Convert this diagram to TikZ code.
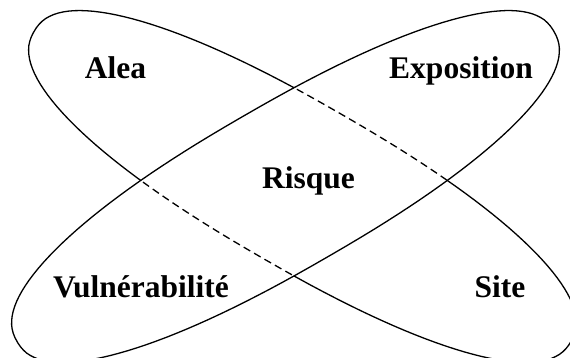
\documentclass[tikz,border=0pt]{standalone}
\usepackage{fontspec}
\setmainfont{Liberation Serif}
\begin{document}
\begin{tikzpicture}[
        x=1pt, y=1pt,
        oval/.style={line width=1.3pt},
        hidden/.style={
            line width=1.3pt,
            dash pattern=on 7.5pt off 4.5pt
        },
        word/.style={
            anchor=base,
            inner sep=0pt,
            font=\fontsize{31.5}{36}\selectfont\bfseries
        },
        lobe/.style={insert path={
            plot[domain=0.5:360.5, samples=145, variable=\t]
            ({310*sign(cos(\t))*pow(abs(cos(\t)),0.87)}, {82*sign(sin(\t))*pow(abs(sin(\t)),0.87)}) -- cycle}},
        frameB/.style={shift={(285.5,171.5)}, rotate=30},
        frameA/.style={shift={(302.5,171.5)}, rotate=-30}
    ]
    \useasboundingbox (0,0) rectangle (570,358);
    \clip (0,0) rectangle (570,358);

    % Vulnerabilite -- Exposition
    \draw[oval, frameB] (0,0) [lobe];

    % Alea -- Site, dashed where it runs inside the other one
    \begin{scope}
        \clip[frameB] (0,0) [lobe];
        \draw[hidden, frameA] (0,0) [lobe];
    \end{scope}
    \begin{scope}[even odd rule]
        \clip[frameB] (-2000,-2000) rectangle (2000,2000) [lobe];
        \draw[oval, frameA] (0,0) [lobe];
    \end{scope}

    % labels
    \node[word] (alea) at (115.5,279) {Alea};
    \node[word] (expo) at (461,279) {Exposition};
    \node[word] (risque) at (308.5,169) {Risque};
    \node[word] (vuln) at (141,60.5) {Vulnérabilité};
    \node[word] (site) at (500,60.5) {Site};
\end{tikzpicture}
\end{document}
